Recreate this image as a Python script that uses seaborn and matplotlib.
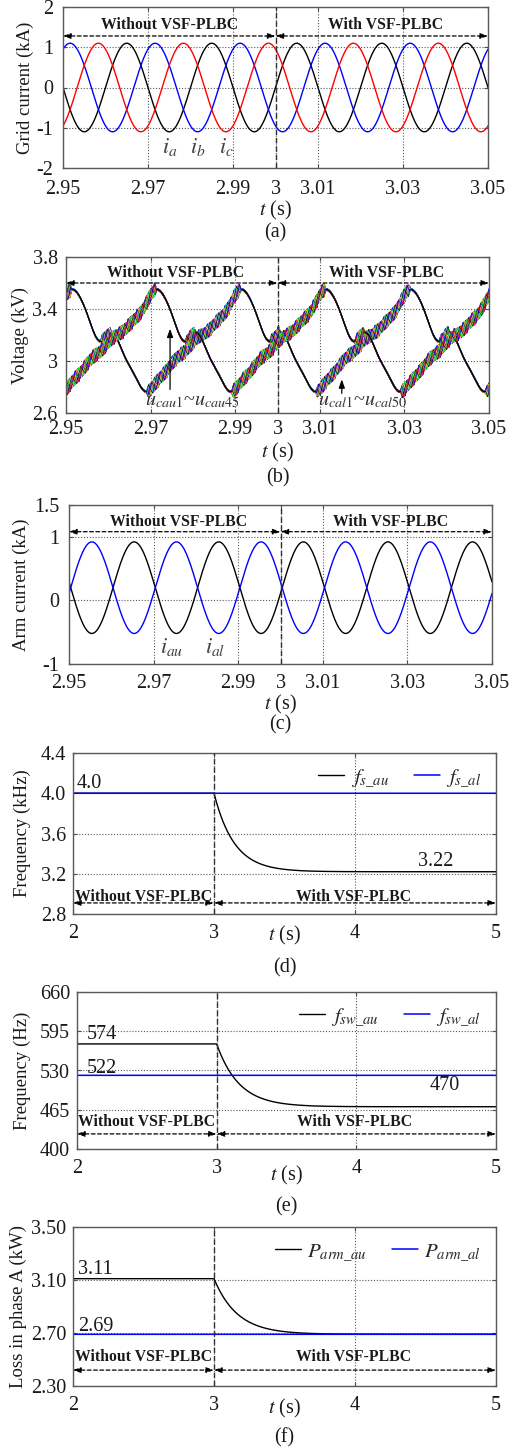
import matplotlib
matplotlib.use("Agg")
import matplotlib.pyplot as plt
import numpy as np
import pandas as pd
import seaborn as sns

# ---------------- values ----------------
# (a) grid currents, 50 Hz sinusoids: peak time of each phase (s), amplitude (kA)
LINE_FREQ = 50.0
GRID_PHASES = ["ia", "ib", "ic"]
GRID_COLORS = ["black", "blue", "red"]
GRID_PEAK_T = [2.9650, 2.97167, 2.97833]
GRID_AMP = 1.10

# (b) capacitor voltage: one 0.04 s cycle of the lower-arm trace (s after 2.95, kV)
UC_TAU = [0.0000, 0.0014, 0.0028, 0.0041, 0.0055, 0.0068, 0.0079, 0.0092, 0.0104,
          0.0116, 0.0130, 0.0145, 0.0160, 0.0175, 0.0188, 0.0200, 0.0215, 0.0230,
          0.0246, 0.0262, 0.0278, 0.0301, 0.0318, 0.0332, 0.0348, 0.0364, 0.0378, 0.0390]
UC_VAL = [3.51, 3.55, 3.52, 3.43, 3.32, 3.21, 3.14, 3.18, 3.22,
          3.19, 3.10, 3.00, 2.90, 2.81, 2.77, 2.78, 2.84, 2.90,
          2.96, 3.02, 3.07, 3.14, 3.20, 3.22, 3.27, 3.33, 3.38, 3.44]
UC_PERIOD = 0.04
UC_UPPER_SHIFT = 0.02          # upper arm trace is half a cycle away
N_CAU, N_CAL = 45, 50          # sub-module count per arm
UC_BAND = 0.05                 # half width of the sorting band (kV)
UC_FRINGE = 0.016              # spread of the traces outside the band (kV)
SORT_FREQ = 480.0              # crosshatch rate of the band (Hz)
MATLAB_COLORS = ["blue", "lime", "red", "cyan", "magenta", "yellow", "black"]

# (c) arm currents
ARM_NAMES = ["iau", "ial"]
ARM_COLORS = ["black", "blue"]
ARM_PEAK_T = [2.9654, 2.9554]
ARM_DC = 0.20
ARM_AMP = 0.72

# (d)-(f) values before / after switching on VSF-PLBC at t = 3 s
T_SWITCH = 3.0
FS_AU = [4.0, 3.22]
FS_AL = 4.0
FS_TAU = 0.143
FSW_AU = [574, 470]
FSW_AL = 522
FSW_TAU = 0.16
PARM_AU = [3.11, 2.69]
PARM_AL = 2.69
PARM_TAU = 0.165

W_PX, H_PX = 515, 1448

sns.set_style("ticks")
plt.rcParams["font.family"] = ["Liberation Serif", "DejaVu Serif"]
plt.rcParams["mathtext.fontset"] = "stix"
plt.rcParams["axes.unicode_minus"] = False

TXT = "0.1"
TICK_FS = 14.5


def place(fig, left, top, right, bottom):
    return fig.add_axes([left / W_PX, 1 - bottom / H_PX,
                         (right - left) / W_PX, (bottom - top) / H_PX])


def style(ax, xlim, ylim, xticks, xlabels, yticks, ylabels, ylabel, xpad, ypad):
    ax.set_xlim(xlim)
    ax.set_ylim(ylim)
    ax.set_xticks(xticks, xlabels)
    ax.set_yticks(yticks, ylabels)
    ax.tick_params(axis="both", direction="in", length=3, width=0.8,
                   labelsize=TICK_FS, labelcolor=TXT, color="0.3")
    ax.tick_params(axis="x", pad=xpad)
    ax.tick_params(axis="y", pad=ypad)
    ax.tick_params(top=True, right=True)
    ax.grid(True, ls=(0, (1, 1.6)), color="0.35", lw=0.8)
    ax.set_axisbelow(True)
    for s in ax.spines.values():
        s.set_color("0.35")
        s.set_linewidth(1.0)
    ax.axvline(T_SWITCH, color="0.2", ls=(0, (4, 2)), lw=1.0, zorder=5)
    ax.set_ylabel(ylabel, fontsize=13.5, color=TXT)
    ax.set_xlabel("")


def labels(fig, ax, ylab_x, xlab_y, cap_y, cap):
    pos = ax.get_position()
    ax.yaxis.label.set_verticalalignment("center")
    ax.yaxis.set_label_coords((ylab_x / W_PX - pos.x0) / pos.width, 0.5)
    xc = pos.x0 + pos.width / 2
    fig.text(xc, 1 - xlab_y / H_PX, "$t$ (s)", fontsize=14.5, ha="center", va="center", color=TXT)
    fig.text(xc, 1 - cap_y / H_PX, cap, fontsize=14.5, ha="center", va="center", color=TXT)


def regions(ax, x0, xm, x1, y_arrow, y_text, xt_left, xt_right):
    for a, b in ((x0, xm), (xm, x1)):
        ax.annotate("", xy=(b, y_arrow), xytext=(a, y_arrow),
                    arrowprops=dict(arrowstyle="<|-|>,head_length=0.45,head_width=0.16",
                                    ls=(0, (3, 2)), lw=0.9, color="black",
                                    shrinkA=0, shrinkB=0))
    ax.text(xt_left, y_text, "Without VSF-PLBC", fontsize=11.3, fontweight="bold",
            ha="center", va="center", color=TXT)
    ax.text(xt_right, y_text, "With VSF-PLBC", fontsize=11.3, fontweight="bold",
            ha="center", va="center", color=TXT)


def settle(t, values, tau):
    y0, y1 = values
    dt = np.clip(t - T_SWITCH, 0, None)
    return np.where(t < T_SWITCH, y0, y1 + (y0 - y1) * np.exp(-dt / tau))


def harmonic_design(x, k_max=8):
    cols = [np.ones_like(x)]
    for k in range(1, k_max + 1):
        w = 2 * np.pi * k * x / UC_PERIOD
        cols += [np.cos(w), np.sin(w)]
    return np.column_stack(cols)


fig = plt.figure(figsize=(W_PX / 100, H_PX / 100), dpi=100)
fast_ticks = [2.95, 2.97, 2.99, 3.0, 3.01, 3.03, 3.05]
fast_labels = ["2.95", "2.97", "2.99", "3", "3.01", "3.03", "3.05"]
t_fast = np.linspace(2.95, 3.05, 2001)

# ---- (a) grid current ----
ax = place(fig, 63, 7, 488, 168)
df_a = pd.concat([pd.DataFrame({"t": t_fast, "i": GRID_AMP * np.cos(2 * np.pi * LINE_FREQ * (t_fast - tp)),
                                "phase": ph}) for ph, tp in zip(GRID_PHASES, GRID_PEAK_T)])
sns.lineplot(data=df_a, x="t", y="i", hue="phase", palette=dict(zip(GRID_PHASES, GRID_COLORS)),
             estimator=None, legend=False, lw=1.0, ax=ax)
style(ax, (2.95, 3.05), (-2, 2), fast_ticks, fast_labels, [-2, -1, 0, 1, 2],
      ["-2", "-1", "0", "1", "2"], "Grid current (kA)", 9, 7)
regions(ax, 2.95, 3.0, 3.05, 1.28, 1.55, 2.975, 3.026)
for name, x in zip(["$i_a$", "$i_b$", "$i_c$"], [2.9751, 2.9817, 2.9885]):
    ax.text(x, -1.48, name, fontsize=16, ha="center", va="center", color="0.25")
labels(fig, ax, 25, 210, 233, "(a)")

# ---- (b) capacitor voltages ----
ax = place(fig, 66, 257, 489, 413)
coef, *_ = np.linalg.lstsq(harmonic_design(np.array(UC_TAU)), np.array(UC_VAL), rcond=None)
t_b = np.linspace(2.95, 3.05, 4001)
for shift, n_sm in ((0.0, N_CAL), (UC_UPPER_SHIFT, N_CAU)):
    base = harmonic_design(t_b - 2.95 + shift) @ coef
    slope = np.gradient(base, t_b)
    width = UC_BAND * np.clip(slope / 20.0, 0, 1)
    rows = []
    for k in range(n_sm):
        phase = (k * 0.618034) % 1.0
        tri = 2 * np.abs(2 * ((SORT_FREQ * t_b + phase) % 1) - 1) - 1
        u = base + width * tri + UC_FRINGE * (phase - 0.5)
        rows.append(pd.DataFrame({"t": t_b, "u": u, "sm": k}))
    df_b = pd.concat(rows)
    pal = {k: MATLAB_COLORS[k % len(MATLAB_COLORS)] for k in range(n_sm)}
    sns.lineplot(data=df_b, x="t", y="u", hue="sm", palette=pal, hue_order=list(range(n_sm)),
                 estimator=None, lw=0.4, legend=False, ax=ax)
    # outline of the smooth (discharging) part of the trace
    ax.plot(t_b, np.where(width < 0.25 * UC_BAND, base, np.nan), color="black", lw=0.9)
style(ax, (2.95, 3.05), (2.6, 3.8), fast_ticks, fast_labels, [2.6, 3.0, 3.4, 3.8],
      ["2.6", "3", "3.4", "3.8"], "Voltage (kV)", 5, 6)
regions(ax, 2.95, 3.0, 3.05, 3.6, 3.675, 2.9758, 3.0259)
ax.text(2.980, 2.69, "$u_{cau1}$~$u_{cau45}$", fontsize=14.5, ha="center", va="center", color="0.2")
ax.annotate("", xy=(2.9746, 3.27), xytext=(2.9746, 2.76),
            arrowprops=dict(arrowstyle="-|>,head_length=0.5,head_width=0.18", lw=0.9, color="black"))
ax.text(3.0202, 2.69, "$u_{cal1}$~$u_{cal50}$", fontsize=14.5, ha="center", va="center", color="0.2")
ax.annotate("", xy=(3.0152, 2.88), xytext=(3.0152, 2.73),
            arrowprops=dict(arrowstyle="-|>,head_length=0.5,head_width=0.18", lw=0.9, color="black"))
labels(fig, ax, 20, 452, 478, "(b)")

# ---- (c) arm current ----
ax = place(fig, 69, 505, 492, 664)
df_c = pd.concat([pd.DataFrame({"t": t_fast,
                                "i": ARM_DC + ARM_AMP * np.cos(2 * np.pi * LINE_FREQ * (t_fast - tp)),
                                "arm": nm}) for nm, tp in zip(ARM_NAMES, ARM_PEAK_T)])
sns.lineplot(data=df_c, x="t", y="i", hue="arm", palette=dict(zip(ARM_NAMES, ARM_COLORS)),
             estimator=None, legend=False, lw=1.0, ax=ax)
style(ax, (2.95, 3.05), (-1, 1.5), fast_ticks, fast_labels, [-1, 0, 1, 1.5],
      ["-1", "0", "1", "1.5"], "Arm current (kA)", 7, 7)
regions(ax, 2.95, 3.0, 3.05, 1.08, 1.24, 2.9758, 3.026)
ax.text(2.9743, -0.73, "$i_{au}$", fontsize=16, ha="center", va="center", color="0.25")
ax.text(2.9845, -0.73, "$i_{al}$", fontsize=16, ha="center", va="center", color="0.25")
labels(fig, ax, 21, 704, 725, "(c)")

# ---- (d)-(f) slow quantities ----
t_slow = np.linspace(2, 5, 3001)
slow_panels = [
    dict(box=(73, 753, 496, 914), au=FS_AU, al=FS_AL, tau=FS_TAU,
         ylim=(2.8, 4.4), yticks=[2.8, 3.2, 3.6, 4.0, 4.4],
         ylabels=["2.8", "3.2", "3.6", "4.0", "4.4"], ylabel="Frequency (kHz)",
         names=[r"$f_{s\_au}$", r"$f_{s\_al}$"], notes=[("4.0", 2.113, 4.10), ("3.22", 4.57, 3.32)],
         reg=(2.91, 2.97), ylab_x=22, xlab_y=935, cap_y=968, cap="(d)"),
    dict(box=(77, 992, 496, 1149), au=FSW_AU, al=FSW_AL, tau=FSW_TAU,
         ylim=(400, 660), yticks=[400, 465, 530, 595, 660],
         ylabels=["400", "465", "530", "595", "660"], ylabel="Frequency (Hz)",
         names=[r"$f_{sw\_au}$", r"$f_{sw\_al}$"],
         notes=[("574", 2.177, 590), ("522", 2.177, 534), ("470", 4.634, 505)],
         reg=(425, 444), ylab_x=22, xlab_y=1175, cap_y=1207, cap="(e)"),
    dict(box=(73, 1227, 496, 1386), au=PARM_AU, al=PARM_AL, tau=PARM_TAU,
         ylim=(2.3, 3.5), yticks=[2.3, 2.7, 3.1, 3.5],
         ylabels=["2.30", "2.70", "3.10", "3.50"], ylabel="Loss in phase A (kW)",
         names=[r"$P_{arm\_au}$", r"$P_{arm\_al}$"],
         notes=[("3.11", 2.16, 3.18), ("2.69", 2.16, 2.75)],
         reg=(2.42, 2.52), ylab_x=18, xlab_y=1408, cap_y=1438, cap="(f)"),
]
for p in slow_panels:
    ax = place(fig, *p["box"])
    au = settle(t_slow, p["au"], p["tau"])
    al = np.full_like(t_slow, p["al"], dtype=float)
    sns.lineplot(x=t_slow, y=au, color="black", lw=1.0, label=p["names"][0], ax=ax)
    sns.lineplot(x=t_slow, y=al, color="blue", lw=1.1, label=p["names"][1], ax=ax)
    style(ax, (2, 5), p["ylim"], [2, 3, 4, 5], ["2", "3", "4", "5"], p["yticks"],
          p["ylabels"], p["ylabel"], 7, 5)
    regions(ax, 2, 3, 5, p["reg"][0], p["reg"][1], 2.5, 3.99)
    for s, x, y in p["notes"]:
        ax.text(x, y, s, fontsize=14.5, ha="center", va="center", color=TXT)
    ax.legend(loc="upper right", ncol=2, frameon=False, fontsize=15, handlelength=1.25,
              handletextpad=0.3, columnspacing=1.2, borderaxespad=0.3)
    labels(fig, ax, p["ylab_x"], p["xlab_y"], p["cap_y"], p["cap"])

fig.savefig("out.png", dpi=100)
